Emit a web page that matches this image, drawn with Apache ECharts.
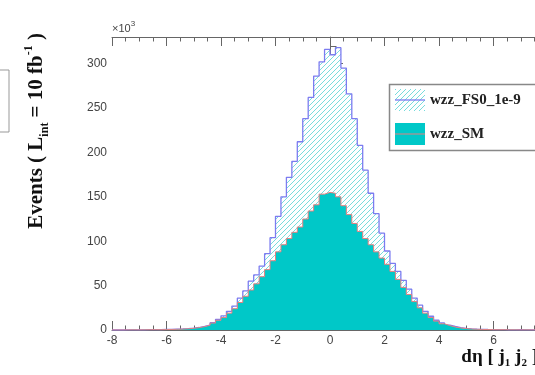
<!DOCTYPE html>
<html>
<head>
<meta charset="utf-8">
<script src="https://cdn.jsdelivr.net/npm/echarts@6/dist/echarts.min.js"></script>
<style>
  html, body { margin: 0; padding: 0; background: #fff; }
  #chart { width: 535px; height: 375px; }
</style>
</head>
<body>
<div id="chart"></div>
<script>
// Histogram binning: 80 bins of d-eta between the two leading jets
const etaRange = [-8, 8];
const binCount = 80;

// Event counts per bin (units of 10^3 events)
const fs0Counts = [
  0, 0, 0.1, 0.1, 0.2, 0.2, 0.4, 0.4, 0.5, 0.6,
  0.7, 0.9, 1.1, 1.5, 2.0, 2.8, 4.0, 5.6, 8.2, 12,
  16, 21, 27, 36, 44, 55, 62, 72, 86, 104,
  128, 150, 172, 190, 212, 238, 262, 286, 302, 316,
  310, 318, 295, 266, 238, 208, 180, 154, 131, 109,
  89, 75, 66, 56, 46, 36, 28, 21, 15.5, 11,
  8, 5.6, 4.0, 2.6, 1.8, 1.3, 0.9, 0.8, 0.6, 0.5,
  0.4, 0.5, 0.3, 0.2, 0.3, 0.2, 0.2, 0.1, 0, 0
];
const smCounts = [
  0, 0, 0.1, 0.2, 0.1, 0.2, 0.3, 0.4, 0.3, 0.5,
  0.6, 0.8, 1.0, 1.4, 1.9, 2.7, 3.8, 5.4, 7.8, 11,
  14, 19, 24, 31, 38, 45, 52, 60, 68, 78,
  88, 96, 103, 110, 116, 125, 134, 141, 153, 155,
  154, 150, 140, 130, 120, 111, 103, 96, 88, 81,
  74, 66, 57, 48, 40, 32, 25, 19, 14, 10,
  7, 5, 3.4, 2.3, 1.6, 1.1, 0.8, 0.6, 0.5, 0.4,
  0.3, 0.4, 0.2, 0.2, 0.1, 0.2, 0.1, 0, 0, 0
];

const seriesNames = ['wzz_FS0_1e-9', 'wzz_SM'];
const xTicks = { min: -8, max: 8, major: 2, minor: 0.5 };
const yTicks = { min: 0, max: 330, major: 50, minor: 10 };

// Step outline points: one point per bin low edge plus the closing upper edge
function stepPoints(counts) {
  const w = (etaRange[1] - etaRange[0]) / binCount;
  const pts = counts.map((v, i) => [etaRange[0] + i * w, v]);
  pts.push([etaRange[1], counts[counts.length - 1]]);
  return pts;
}

// Diagonal hatch tile used for the FS0 fill, drawn pixel by pixel
function hatchTile() {
  const n = 5;
  const c = document.createElement('canvas');
  c.width = n; c.height = n;
  const g = c.getContext('2d');
  g.fillStyle = '#ffffff';
  g.fillRect(0, 0, n, n);
  g.fillStyle = 'rgb(120,220,220)';
  for (let i = 0; i < n; i++) g.fillRect(i, n - 1 - i, 1, 1);
  return c;
}
const hatch = { image: hatchTile(), repeat: 'repeat' };

const axisColor = '#666';
const labelFont = 'Liberation Sans';
const titleFont = 'Liberation Serif';
const teal = '#00c8c8';
const fs0Line = '#7c7cf0';
const smLine = '#e48080';

const chart = echarts.init(document.getElementById('chart'), null, { renderer: 'canvas' });

function frameX(pos, interval, len, labels) {
  return {
    type: 'value', position: pos, min: xTicks.min, max: xTicks.max, interval: interval,
    axisLine: { show: labels !== null, lineStyle: { color: axisColor, width: 1 } },
    axisTick: { show: true, inside: true, length: len, lineStyle: { color: axisColor, width: 1 } },
    axisLabel: labels ? labels : { show: false },
    splitLine: { show: false }
  };
}

const option = {
  animation: false,
  backgroundColor: '#fff',
  grid: { left: 112, top: 37, width: 436, height: 293, containLabel: false, outerBoundsMode: 'none' },
  xAxis: [
    frameX('bottom', xTicks.major, 9, {
      show: true, margin: 5, fontSize: 12, color: '#444', fontFamily: labelFont
    }),
    Object.assign(frameX('bottom', xTicks.minor, 4.5, null), { axisLine: { show: false } }),
    frameX('top', xTicks.major, 9, false),
    Object.assign(frameX('top', xTicks.minor, 4.5, null), { axisLine: { show: false } })
  ],
  yAxis: [
    {
      type: 'value', position: 'left', min: yTicks.min, max: yTicks.max, interval: yTicks.major,
      axisLine: { show: true, lineStyle: { color: axisColor, width: 1 } },
      axisTick: { show: true, inside: true, length: 13, lineStyle: { color: axisColor, width: 1 } },
      axisLabel: { show: true, margin: 5, fontSize: 12, color: '#444', fontFamily: labelFont, showMaxLabel: false },
      splitLine: { show: false }
    },
    {
      type: 'value', position: 'left', min: yTicks.min, max: yTicks.max, interval: yTicks.minor,
      axisLine: { show: false },
      axisTick: { show: true, inside: true, length: 6.5, lineStyle: { color: axisColor, width: 1 } },
      axisLabel: { show: false },
      splitLine: { show: false }
    }
  ],
  series: [
    {
      name: seriesNames[0], type: 'line', step: 'end', symbol: 'none',
      xAxisIndex: 0, yAxisIndex: 0,
      data: stepPoints(fs0Counts),
      lineStyle: { color: fs0Line, width: 1.3 },
      areaStyle: { color: hatch, opacity: 1, origin: 'start' },
      z: 2
    },
    {
      name: seriesNames[1], type: 'line', step: 'end', symbol: 'none',
      xAxisIndex: 0, yAxisIndex: 0,
      data: stepPoints(smCounts),
      lineStyle: { color: smLine, width: 1 },
      areaStyle: { color: teal, opacity: 1, origin: 'start' },
      z: 3
    }
  ],
  graphic: [
    // partial box at the left edge
    { type: 'rect', shape: { x: -6, y: 70, width: 15, height: 62 },
      style: { fill: 'none', stroke: '#999', lineWidth: 1 } },
    // axis multiplier
    { type: 'text', x: 112, y: 34,
      style: {
        text: '{a|×10}{b|3}', textVerticalAlign: 'bottom',
        rich: {
          a: { fontSize: 11, fontFamily: labelFont, fill: '#444', lineHeight: 14, verticalAlign: 'bottom' },
          b: { fontSize: 8, fontFamily: labelFont, fill: '#444', lineHeight: 8, verticalAlign: 'top' }
        }
      } },
    // y-axis title
    { type: 'text', x: 37, y: 33, rotation: Math.PI / 2,
      style: {
        text: '{n|Events ( L}{s|int}{n| = 10 fb}{p|-1}{n| )}',
        textAlign: 'right', textVerticalAlign: 'middle',
        rich: {
          n: { fontSize: 21, fontWeight: 'bold', fontFamily: titleFont, fill: '#111', lineHeight: 28 },
          s: { fontSize: 12, fontWeight: 'bold', fontFamily: titleFont, fill: '#111', lineHeight: 12, verticalAlign: 'bottom' },
          p: { fontSize: 12, fontWeight: 'bold', fontFamily: titleFont, fill: '#111', lineHeight: 12, verticalAlign: 'top' }
        }
      } },
    // x-axis title
    { type: 'text', x: 538, y: 357,
      style: {
        text: '{n|dη [ j}{s|1}{n| j}{s|2}{n| ]}',
        textAlign: 'right', textVerticalAlign: 'middle',
        rich: {
          n: { fontSize: 19, fontWeight: 'bold', fontFamily: titleFont, fill: '#111', lineHeight: 24 },
          s: { fontSize: 11, fontWeight: 'bold', fontFamily: titleFont, fill: '#111', lineHeight: 11, verticalAlign: 'bottom' }
        }
      } },
    // legend
    { type: 'group', z: 10, children: [
      { type: 'rect', shape: { x: 389.5, y: 84.5, width: 160, height: 66 },
        style: { fill: '#fff', stroke: '#888', lineWidth: 1.5 } },
      { type: 'rect', shape: { x: 395, y: 89, width: 30, height: 22 },
        style: { fill: hatch } },
      { type: 'line', shape: { x1: 395, y1: 100, x2: 425, y2: 100 },
        style: { stroke: fs0Line, lineWidth: 1.3 } },
      { type: 'rect', shape: { x: 395, y: 123, width: 30, height: 22 },
        style: { fill: teal } },
      { type: 'line', shape: { x1: 395, y1: 134, x2: 425, y2: 134 },
        style: { stroke: smLine, lineWidth: 1 } },
      { type: 'text', x: 430, y: 100,
        style: { text: seriesNames[0], fontSize: 15, fontWeight: 'bold', fontFamily: titleFont,
                 fill: '#222', textVerticalAlign: 'middle' } },
      { type: 'text', x: 430, y: 134,
        style: { text: seriesNames[1], fontSize: 15, fontWeight: 'bold', fontFamily: titleFont,
                 fill: '#222', textVerticalAlign: 'middle' } }
    ] }
  ]
};

chart.setOption(option);
</script>
</body>
</html>
